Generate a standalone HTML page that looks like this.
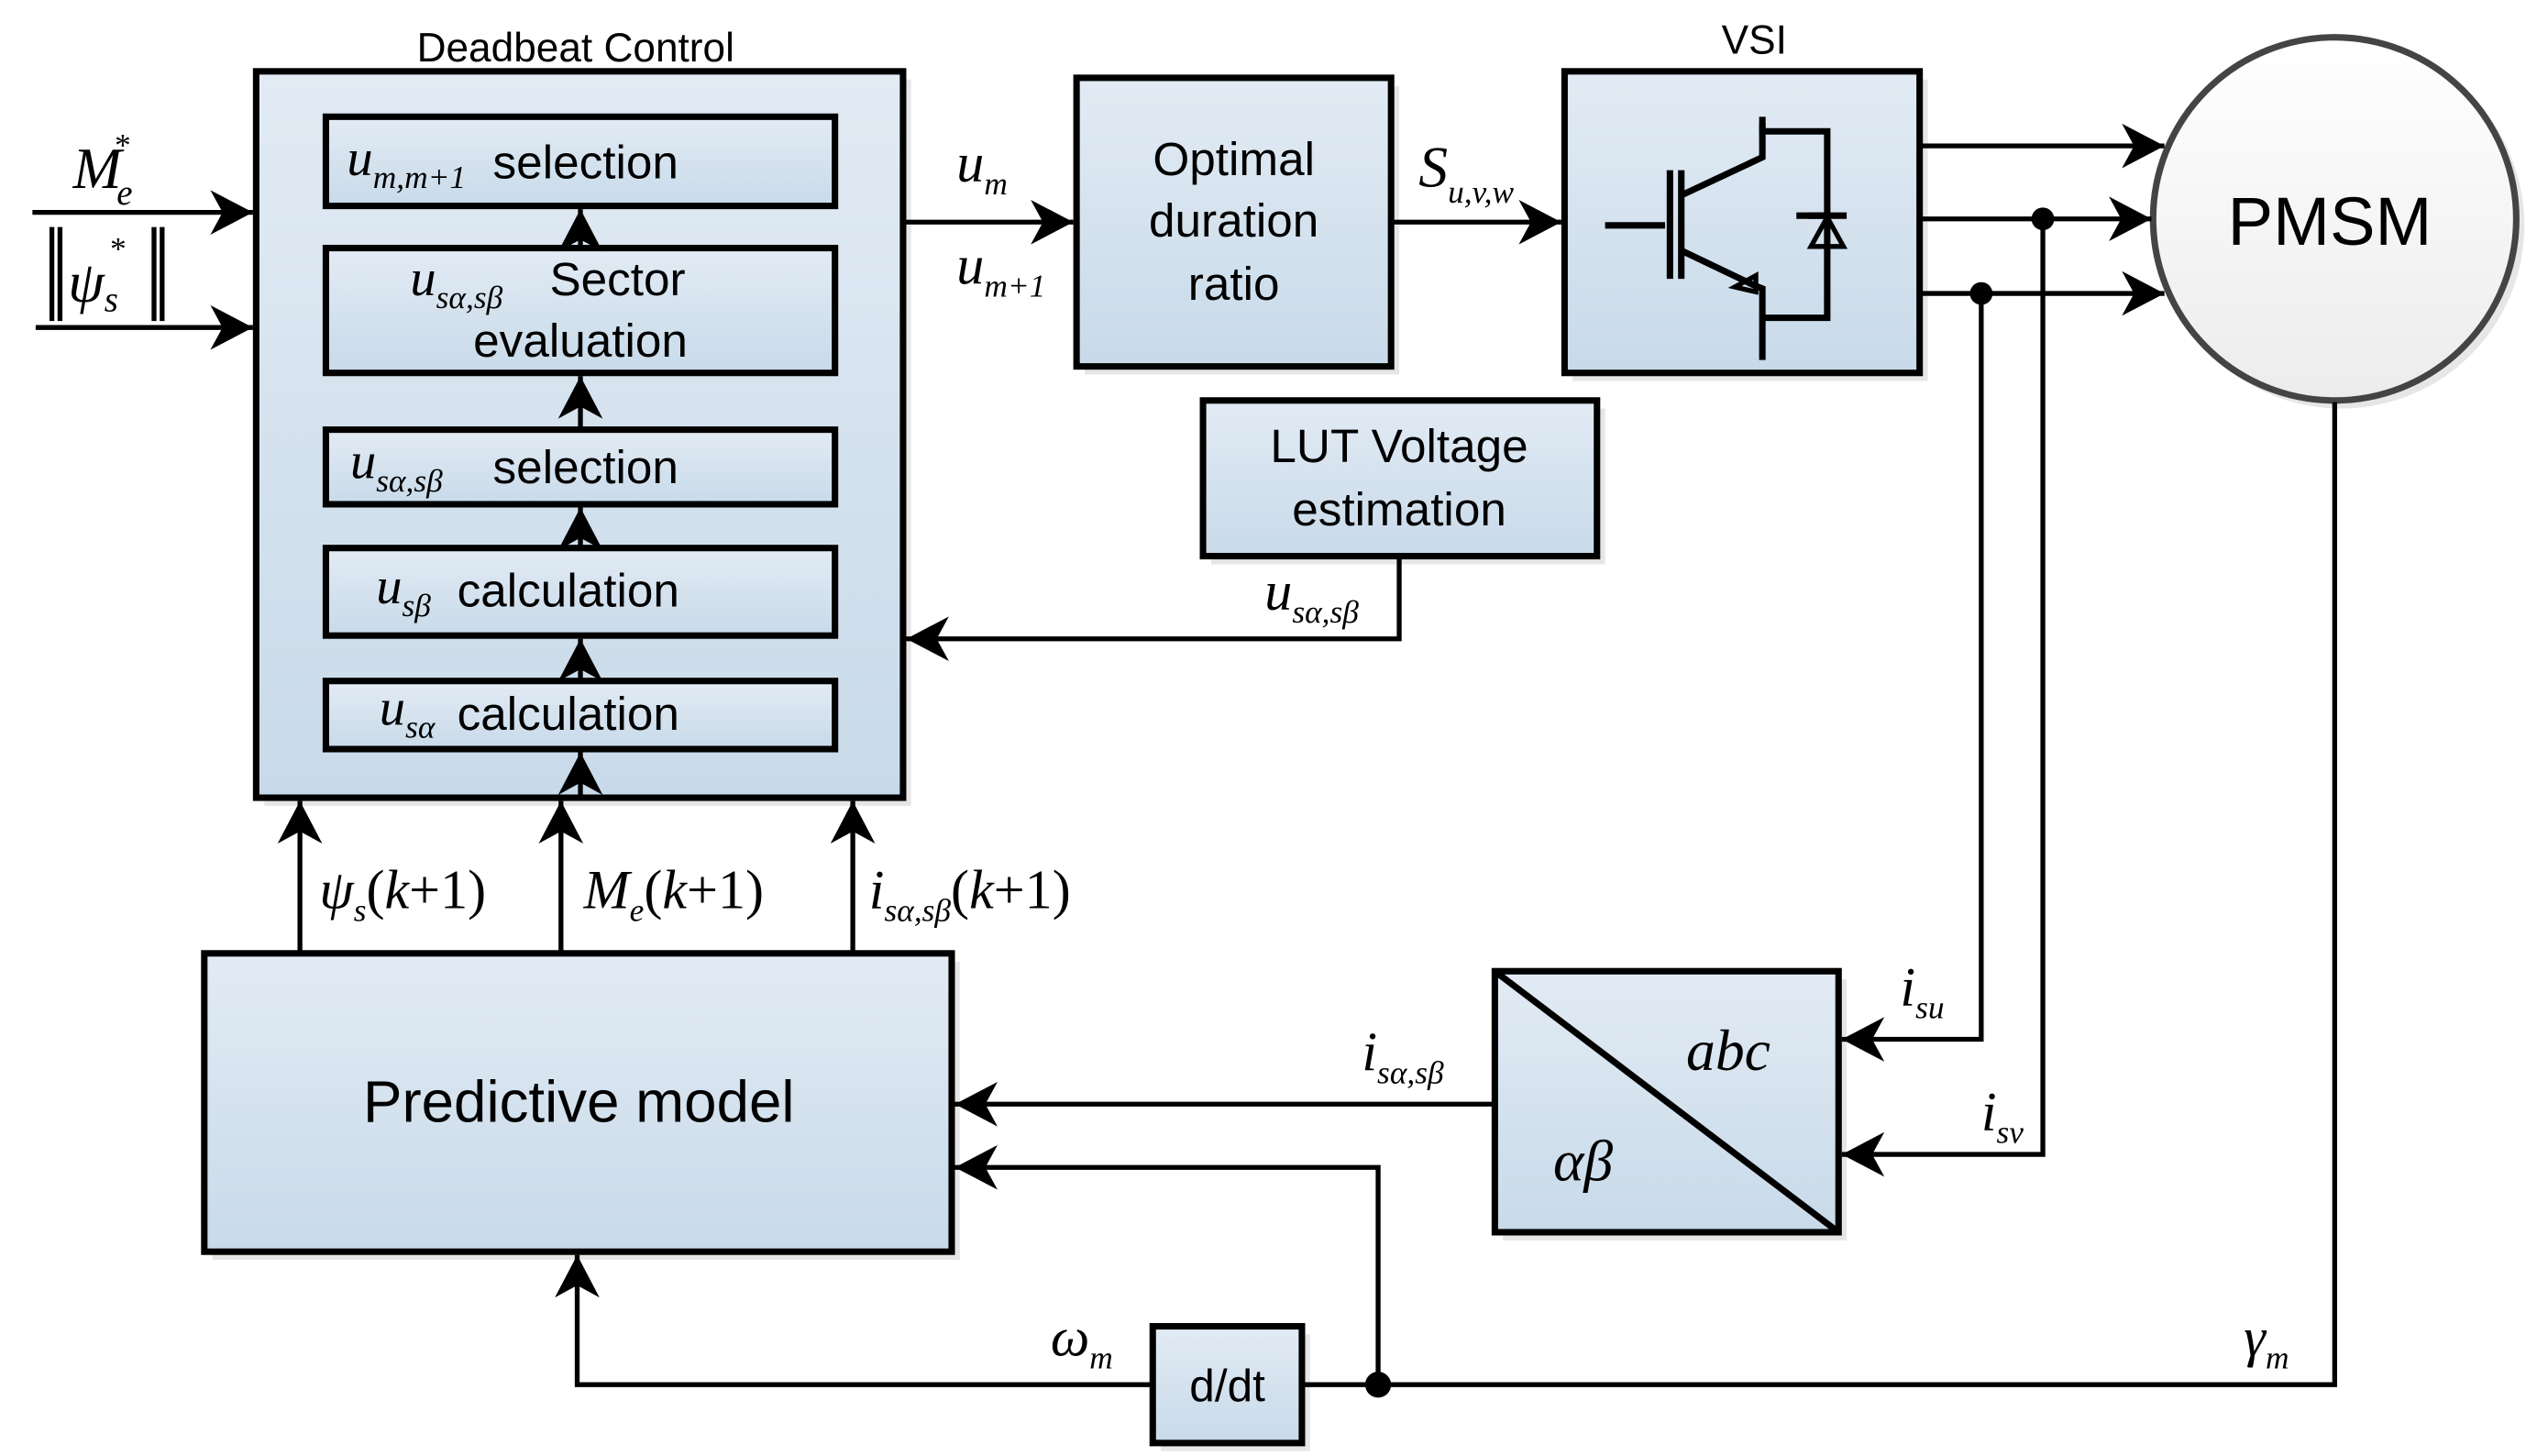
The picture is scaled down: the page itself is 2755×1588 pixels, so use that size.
<!DOCTYPE html>
<html><head><meta charset="utf-8"><style>
html,body{margin:0;padding:0;background:#fff}
svg{display:block}
.s{font-family:"Liberation Sans",sans-serif;fill:#000}
.m{font-family:"Liberation Serif",serif;font-style:italic;fill:#000}
</style></head><body>
<svg width="2755" height="1588" viewBox="0 0 1558 898" preserveAspectRatio="none" xmlns="http://www.w3.org/2000/svg">
<defs>
<linearGradient id="g" x1="0" y1="0" x2="0" y2="1"><stop offset="0" stop-color="#e2ebf4"/><stop offset="1" stop-color="#c8dae9"/></linearGradient>
<linearGradient id="gc" x1="0" y1="0" x2="0" y2="1"><stop offset="0" stop-color="#ffffff"/><stop offset="1" stop-color="#ececec"/></linearGradient>
<marker id="a" markerUnits="userSpaceOnUse" markerWidth="30" markerHeight="30" viewBox="-22 -12 24 24" refX="0" refY="0" orient="auto"><path d="M0,0 L-21,-11 L-15,0 L-21,11 Z" fill="#000"/></marker>
</defs>
<g fill="#e6e6e6">
<rect x="163" y="49" width="399" height="448"/>
<rect x="669" y="53" width="194" height="178"/>
<rect x="970" y="49" width="219" height="186"/>
<rect x="747" y="252" width="243" height="96"/>
<rect x="131" y="593" width="461" height="184"/>
<rect x="927" y="604" width="212" height="161"/>
<rect x="716" y="823" width="92" height="72"/>
<circle cx="1444" cy="139" r="113"/>
</g>
<g stroke="#000" stroke-width="4" fill="url(#g)">
<rect x="158" y="44" width="399" height="448"/>
<rect x="201" y="72" width="314" height="55"/>
<rect x="201" y="153" width="314" height="77"/>
<rect x="201" y="265" width="314" height="46"/>
<rect x="201" y="338" width="314" height="54"/>
<rect x="201" y="420" width="314" height="42"/>
<rect x="664" y="48" width="194" height="178"/>
<rect x="965" y="44" width="219" height="186"/>
<rect x="742" y="247" width="243" height="96"/>
<rect x="126" y="588" width="461" height="184"/>
<rect x="922" y="599" width="212" height="161"/>
<rect x="711" y="818" width="92" height="72"/>
</g>
<circle cx="1440" cy="135" r="112" fill="url(#gc)" stroke="#444" stroke-width="4"/>
<line x1="922" y1="599" x2="1134" y2="760" stroke="#000" stroke-width="4"/>
<g stroke="#000" stroke-width="3" fill="none">
<line x1="358" y1="153" x2="358" y2="129" marker-end="url(#a)"/>
<line x1="358" y1="265" x2="358" y2="232" marker-end="url(#a)"/>
<line x1="358" y1="338" x2="358" y2="313" marker-end="url(#a)"/>
<line x1="358" y1="420" x2="358" y2="394" marker-end="url(#a)"/>
<line x1="358" y1="492" x2="358" y2="464" marker-end="url(#a)"/>
<line x1="20" y1="131" x2="156" y2="131" marker-end="url(#a)"/>
<line x1="22" y1="202" x2="156" y2="202" marker-end="url(#a)"/>
<line x1="557" y1="137" x2="662" y2="137" marker-end="url(#a)"/>
<line x1="858" y1="137" x2="963" y2="137" marker-end="url(#a)"/>
<line x1="1184" y1="90" x2="1335" y2="90" marker-end="url(#a)"/>
<line x1="1184" y1="135" x2="1327" y2="135" marker-end="url(#a)"/>
<line x1="1184" y1="181" x2="1335" y2="181" marker-end="url(#a)"/>
<polyline points="863,343 863,394 559,394" marker-end="url(#a)"/>
<line x1="185" y1="588" x2="185" y2="494" marker-end="url(#a)"/>
<line x1="346" y1="588" x2="346" y2="494" marker-end="url(#a)"/>
<line x1="526" y1="588" x2="526" y2="494" marker-end="url(#a)"/>
<line x1="922" y1="681" x2="589" y2="681" marker-end="url(#a)"/>
<polyline points="1222,181 1222,641 1136,641" marker-end="url(#a)"/>
<polyline points="1260,135 1260,712 1136,712" marker-end="url(#a)"/>
<polyline points="850,854 850,720 589,720" marker-end="url(#a)"/>
<polyline points="1440,248 1440,854 803,854"/>
<polyline points="711,854 356,854 356,774" marker-end="url(#a)"/>
<line x1="32" y1="140" x2="32" y2="198"/><line x1="37" y1="140" x2="37" y2="198"/>
<line x1="95" y1="140" x2="95" y2="198"/><line x1="100" y1="140" x2="100" y2="198"/>
</g>
<g fill="#000"><circle cx="1260" cy="135" r="7"/><circle cx="1222" cy="181" r="7"/><circle cx="850" cy="854" r="8"/></g>
<!-- IGBT -->
<g stroke="#000" stroke-width="4" fill="none">
<line x1="990" y1="139" x2="1027" y2="139"/>
<line x1="1030" y1="105" x2="1030" y2="172"/><line x1="1037" y1="105" x2="1037" y2="172"/>
<polyline points="1038,120 1087,97 1087,72"/>
<polyline points="1087,76 1087,81 1127,81 1127,196 1087,196"/>
<polyline points="1038,155 1082,176 1087,178 1087,222"/>
<line x1="1108" y1="133" x2="1127" y2="133"/>
</g>
<path d="M1070,177 L1083,170 L1083,180 Z" fill="none" stroke="#000" stroke-width="3"/>
<path d="M1117,152 L1127,134 L1137,152 Z" fill="none" stroke="#000" stroke-width="3"/>
<line x1="1115" y1="133" x2="1139" y2="133" stroke="#000" stroke-width="4"/>
<!-- text -->
<text class="s" x="355" y="38" font-size="25" text-anchor="middle">Deadbeat Control</text>
<text class="s" x="1082" y="33" font-size="25" text-anchor="middle">VSI</text>
<text class="m" x="214" y="108" font-size="32">u<tspan font-size="20" dy="8">m,m+1</tspan></text>
<text class="s" x="304" y="110" font-size="29">selection</text>
<text class="m" x="253" y="182" font-size="32">u<tspan font-size="20" dy="8">sα,sβ</tspan></text>
<text class="s" x="339" y="182" font-size="29">Sector</text>
<text class="s" x="358" y="220" font-size="29" text-anchor="middle">evaluation</text>
<text class="m" x="216" y="295" font-size="32">u<tspan font-size="20" dy="8">sα,sβ</tspan></text>
<text class="s" x="304" y="298" font-size="29">selection</text>
<text class="m" x="232" y="372" font-size="32">u<tspan font-size="20" dy="8">sβ</tspan></text>
<text class="s" x="282" y="374" font-size="29">calculation</text>
<text class="m" x="234" y="447" font-size="32">u<tspan font-size="20" dy="8">sα</tspan></text>
<text class="s" x="282" y="450" font-size="29">calculation</text>
<text class="m" x="45" y="116" font-size="36">M<tspan font-size="22" dx="-3" dy="10">e</tspan><tspan font-size="20" dx="-12" dy="-30">*</tspan></text>
<text class="m" x="42" y="186" font-size="36">ψ<tspan font-size="22" dy="6">s</tspan><tspan font-size="20" dx="-6" dy="-32">*</tspan></text>
<text class="m" x="590" y="112" font-size="34">u<tspan font-size="20" dy="8">m</tspan></text>
<text class="m" x="590" y="175" font-size="34">u<tspan font-size="20" dy="8">m+1</tspan></text>
<text class="s" x="761" y="108" font-size="29" text-anchor="middle">Optimal</text>
<text class="s" x="761" y="146" font-size="29" text-anchor="middle">duration</text>
<text class="s" x="761" y="185" font-size="29" text-anchor="middle">ratio</text>
<text class="m" x="875" y="115" font-size="36">S<tspan font-size="20" dy="10">u,v,w</tspan></text>
<text class="s" x="1437" y="151" font-size="42" text-anchor="middle">PMSM</text>
<text class="s" x="863" y="285" font-size="29" text-anchor="middle">LUT Voltage</text>
<text class="s" x="863" y="324" font-size="29" text-anchor="middle">estimation</text>
<text class="m" x="780" y="376" font-size="34">u<tspan font-size="20" dy="8">sα,sβ</tspan></text>
<text class="m" x="197" y="560" font-size="34">ψ<tspan font-size="20" dy="8">s</tspan><tspan dy="-8" font-style="normal">(</tspan>k<tspan font-style="normal">+1)</tspan></text>
<text class="m" x="360" y="560" font-size="34">M<tspan font-size="20" dy="8">e</tspan><tspan dy="-8" font-style="normal">(</tspan>k<tspan font-style="normal">+1)</tspan></text>
<text class="m" x="536" y="560" font-size="34">i<tspan font-size="20" dy="8">sα,sβ</tspan><tspan dy="-8" font-style="normal">(</tspan>k<tspan font-style="normal">+1)</tspan></text>
<text class="s" x="357" y="692" font-size="36" text-anchor="middle">Predictive model</text>
<text class="m" x="840" y="660" font-size="34">i<tspan font-size="20" dy="8">sα,sβ</tspan></text>
<text class="m" x="1040" y="660" font-size="36">abc</text>
<text class="m" x="958" y="728" font-size="36">αβ</text>
<text class="m" x="1172" y="620" font-size="34">i<tspan font-size="20" dy="8">su</tspan></text>
<text class="m" x="1222" y="697" font-size="34">i<tspan font-size="20" dy="8">sv</tspan></text>
<text class="m" x="1384" y="836" font-size="34">γ<tspan font-size="20" dy="8">m</tspan></text>
<text class="m" x="648" y="836" font-size="34">ω<tspan font-size="20" dy="8">m</tspan></text>
<text class="s" x="757" y="864" font-size="28" text-anchor="middle">d/dt</text>
</svg>
</body></html>
